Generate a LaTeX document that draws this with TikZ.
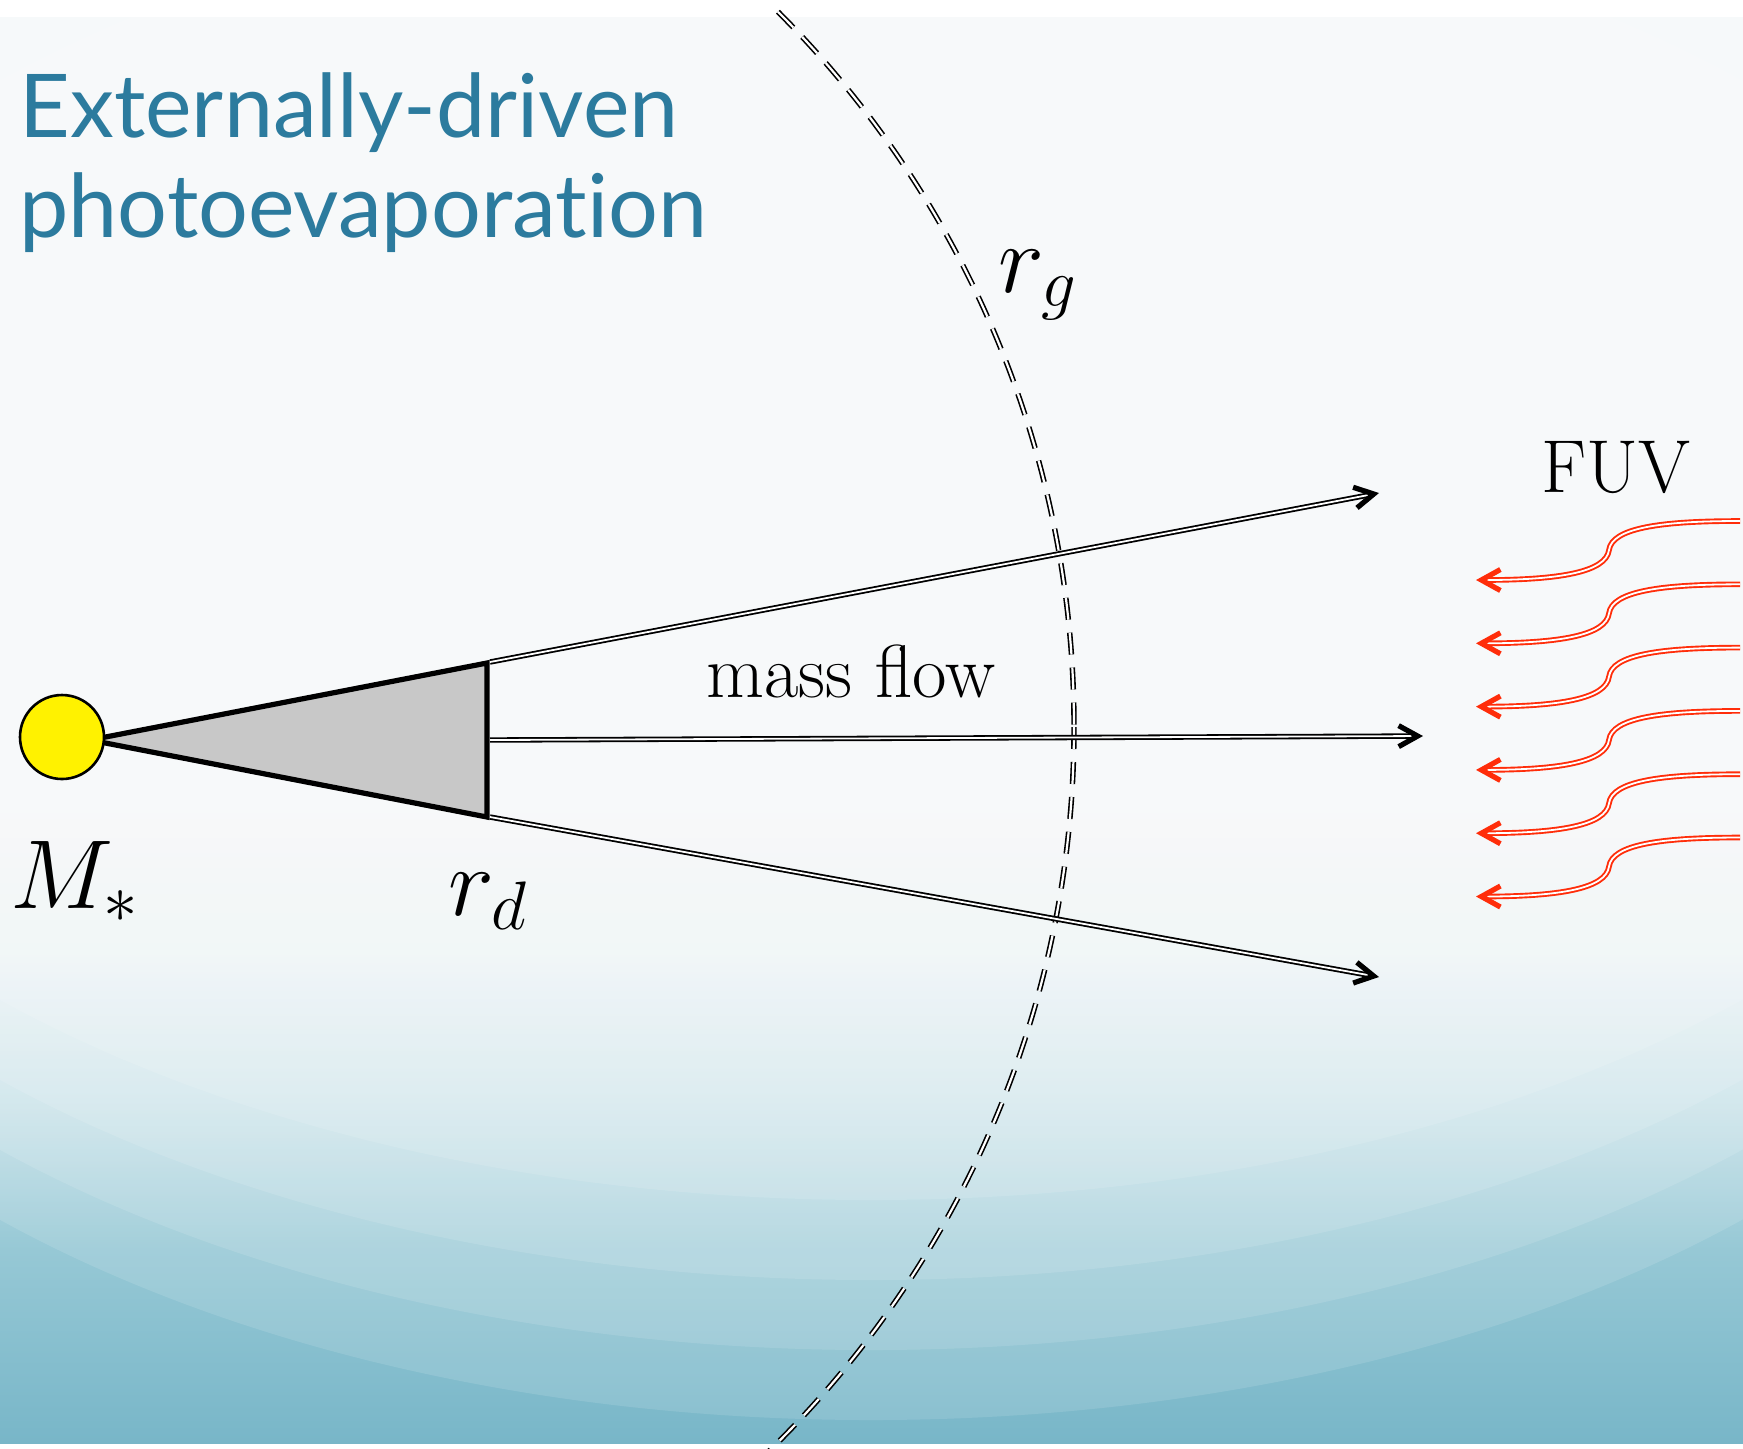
\RequirePackage{fix-cm}
\documentclass[tikz,border=0pt]{standalone}
\usepackage{fontspec}
\usepackage{graphicx}
\newfontfamily\titlefont{Lato}[Ligatures={NoCommon}]
\usetikzlibrary{arrows.meta}
\definecolor{titleblue}{RGB}{44,123,158}
\definecolor{fuvred}{RGB}{255,45,10}
\definecolor{diskgray}{RGB}{200,200,200}
\definecolor{bgA}{RGB}{245,249,250}
\definecolor{bgB}{RGB}{235,243,246}
\definecolor{bgC}{RGB}{200,226,233}
\definecolor{bgD}{RGB}{150,200,213}
\definecolor{bgE}{RGB}{120,182,200}
\pgfdeclareverticalshading{slidebg}{100bp}{color(0bp)=(bgE); color(25bp)=(bgE); color(31.75bp)=(bgD); color(37.05bp)=(bgC); color(42.3bp)=(bgB); color(47.55bp)=(bgA); color(75bp)=(bgA); color(100bp)=(bgA)}
\tikzset{
  titletext/.style={font=\titlefont\fontsize{44}{50}\selectfont, text=titleblue, inner sep=0pt},
  mathlabel/.style={font=\fontsize{49}{58}\selectfont, inner sep=0pt},
  textlabel/.style={font=\fontsize{37.5}{44}\selectfont, inner sep=0pt},
  flow/.style={draw=black, double=white, line width=0.9pt, double distance=0.9pt,
    -{Straight Barb[length=9.5pt,width=10.5pt,line width=2.6pt]}},
  fuv/.style={draw=fuvred, double=white, line width=0.95pt, double distance=0.9pt,
    -{Straight Barb[length=9.5pt,width=10.5pt,line width=2.6pt]}},
  rgarc/.style={draw=black, double=white, line width=0.8pt, double distance=1.1pt,
    dash pattern=on 11pt off 6.5pt},
  disk/.style={fill=diskgray, draw=black, line width=2.6pt},
  starnode/.style={circle, draw=black, fill=yellow, line width=1.3pt, minimum size=42pt, inner sep=0pt},
  glow/.style={fill=white, opacity=0.12}
}
\begin{document}
\begin{tikzpicture}[x=0.5pt,y=-0.5pt]
\useasboundingbox (0,0) rectangle (1743,1448);
\fill[white] (0,0) rectangle (1743,1448);
\shade[shading=slidebg] (0,17) rectangle (1743,1443);
\begin{scope}
  \clip (0,17) rectangle (1743,1443);
  \fill[glow] (871,500) ellipse [x radius=1244, y radius=700];
  \fill[glow] (871,580) ellipse [x radius=1244, y radius=700];
  \fill[glow] (871,650) ellipse [x radius=1244, y radius=700];
  \fill[glow] (871,720) ellipse [x radius=1244, y radius=700];
\end{scope}

% title
\node[titletext, anchor=base west] (title1) at (19,137) {Externally-driven};
\node[titletext, anchor=base west] (title2) at (19,237) {photoevaporation};

% gravitational radius arc
\coordinate (rgc) at (62,727);
\begin{scope}
  \clip (0,6) rectangle (1743,1448);
  \draw[rgarc] (rgc) circle[radius=1012];
\end{scope}

% disc
\coordinate (apex) at (90,740);
\coordinate (dtop) at (487,663);
\coordinate (dbot) at (487,817);
\filldraw[disk] (apex) -- (dtop) -- (dbot) -- cycle;
\node[starnode] (star) at (62,737) {};

% mass flow arrows
\coordinate (u0) at (490,662);
\coordinate (u1) at (1379,493);
\coordinate (m0) at (490,740);
\coordinate (m1) at (1423,736);
\coordinate (l0) at (490,817);
\coordinate (l1) at (1379,977);
\draw[flow] (u0) -- (u1);
\draw[flow] (m0) -- (m1);
\draw[flow] (l0) -- (l1);

% FUV arrows
\foreach \i in {0,...,5}{
  \pgfmathsetmacro{\yy}{521+63.3*\i}
  \coordinate (f\i s) at (1740,\yy);
  \coordinate (f\i e) at (1476,\yy+59);
  \draw[fuv] (f\i s) .. controls (1660,\yy) and (1612,\yy+7) .. (1609,\yy+29)
     .. controls (1606,\yy+51) and (1560,\yy+59) .. (f\i e);
}

% labels
\node[mathlabel, anchor=base west] (mstar) at (10,908) {$M_*$};
\node[mathlabel, anchor=base west] (rd) at (448,915) {$r_d$};
\node[mathlabel, anchor=base west] (rg) at (998,292) {$r_g$};
\node[textlabel, anchor=base] (mf) at (851,697) {mass flow};
\node[textlabel, anchor=base] (fuvl) at (1616,492) {FUV};
\end{tikzpicture}
\end{document}
